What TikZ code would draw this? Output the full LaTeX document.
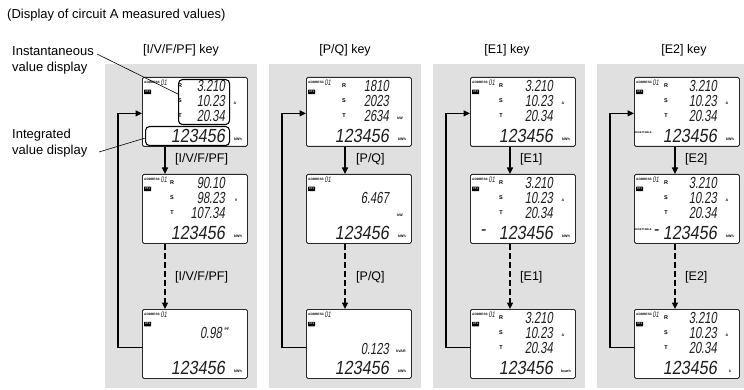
\documentclass[tikz,border=0pt]{standalone}
\usepackage{fontspec}
\setmainfont{Liberation Sans}
\newfontfamily\lcdfont{Liberation Sans}[FakeStretch=0.7,FakeSlant=0.15]
\newfontfamily\lcdbigfont{Liberation Sans}[FakeStretch=0.85,FakeSlant=0.15]
\usetikzlibrary{arrows.meta}
\definecolor{panelgray}{RGB}{224,224,224}
\definecolor{lcdline}{RGB}{40,40,40}
\definecolor{segcol}{RGB}{30,30,30}
\tikzset{
  panel/.style={fill=panelgray,draw=none},
  lcd/.style={draw=lcdline,line width=0.8pt,fill=white,rounded corners=1.5pt,minimum width=105pt,minimum height=69pt,inner sep=0pt,anchor=north west},
  conn/.style={line width=1.1pt,-{Triangle[length=6.5pt,width=6pt]}},
  dconn/.style={conn,dash pattern=on 6pt off 3pt},
  leader/.style={line width=0.6pt},
  hl/.style={draw=black,line width=1.1pt,rounded corners=4pt,inner sep=0pt,anchor=north west},
  titletext/.style={font=\fontsize{13}{15}\selectfont,inner sep=0pt,anchor=west},
  sidetext/.style={font=\fontsize{13}{16}\selectfont,inner sep=0pt,align=left,anchor=north west},
  keytext/.style={font=\fontsize{12.5}{15}\selectfont,inner sep=0pt},
  arrtext/.style={font=\fontsize{12.5}{14}\selectfont,inner sep=0pt,anchor=west},
  addr/.style={font=\fontsize{3.2}{3.5}\selectfont\bfseries,inner sep=0pt,anchor=west},
  lcdsm/.style={font=\lcdfont\fontsize{8}{8}\selectfont,inner sep=0pt,anchor=west,text=segcol},
  ctb/.style={fill=black,text=white,font=\fontsize{2.6}{3}\selectfont\bfseries,inner sep=0pt,minimum width=7pt,minimum height=4.5pt,rounded corners=0.4pt},
  rst/.style={font=\fontsize{5.5}{6}\selectfont\bfseries,inner sep=0pt},
  val/.style={font=\lcdfont\fontsize{16}{16}\selectfont,inner sep=0pt,anchor=east,text=segcol},
  ival/.style={font=\lcdbigfont\fontsize{19}{19}\selectfont,inner sep=0pt,anchor=east,text=segcol},
  unit/.style={font=\fontsize{3.6}{4}\selectfont\bfseries,inner sep=0pt},
  tinytext/.style={font=\fontsize{2.6}{3}\selectfont\bfseries,inner sep=0pt},
}
\newcommand\lcdhead[1]{%
  \node[addr] (#1ad) at (2,5) {ADDRESS};
  \node[lcdsm] (#1no) at (18.5,5.5) {01};
  \node[ctb] (#1ct) at (5.5,15) {CT1};}
\newcommand\lcdrows[5]{%
  \node[rst] (#1r) at (#2,9) {R};
  \node[rst] (#1s) at (#2,24) {S};
  \node[rst] (#1t) at (#2,39) {T};
  \node[val] (#1va) at (83,9) {#3};
  \node[val] (#1vb) at (83,24) {#4};
  \node[val] (#1vc) at (83,39) {#5};}
\newcommand\lcdint[3]{%
  \node[ival] (#1iv) at (83,59) {#2};
  \node[unit] (#1iu) at (96,62) {#3};}
\begin{document}
\begin{tikzpicture}[x=1pt,y=-1pt]
\useasboundingbox (0,0) rectangle (744,390);
% panels
\fill[panel] (105,64) rectangle (257,388);
\fill[panel] (269,64) rectangle (421,388);
\fill[panel] (433,64) rectangle (585,388);
\fill[panel] (597,64) rectangle (744,388);
% title and side labels
\node[titletext] (title) at (7,15) {(Display of circuit A measured values)};
\node[sidetext] (inst) at (12,46) {Instantaneous\\value display};
\node[sidetext] (integ) at (12,129) {Integrated\\value display};
% key labels
\node[keytext] (k1) at (181,50) {[I/V/F/PF] key};
\node[keytext] (k2) at (345,50) {[P/Q] key};
\node[keytext] (k3) at (507,50) {[E1] key};
\node[keytext] (k4) at (684,50) {[E2] key};

% ===== Panel 1 =====
\node[lcd] (p1b1) at (142,77) {};
\begin{scope}[shift={(142,77)}]
  \lcdhead{p1b1}
  \lcdrows{p1b1}{38}{3.210}{10.23}{20.34}
  \node[unit] (p1b1u) at (93,26) {A};
  \lcdint{p1b1}{123456}{kWh}
\end{scope}
\node[hl,minimum width=51pt,minimum height=45pt] (hlA) at (178,79) {};
\node[hl,minimum width=84pt,minimum height=19pt] (hlB) at (145,126) {};
\node[lcd] (p1b2) at (142,174) {};
\begin{scope}[shift={(142,174)}]
  \lcdhead{p1b2}
  \lcdrows{p1b2}{30}{90.10}{98.23}{107.34}
  \node[unit] (p1b2u) at (94,26) {V};
  \lcdint{p1b2}{123456}{kWh}
\end{scope}
\node[lcd] (p1b3) at (142,309) {};
\begin{scope}[shift={(142,309)}]
  \lcdhead{p1b3}
  \node[val] (p1b3v) at (80,24) {0.98};
  \node[unit] (p1b3pf) at (85,20) {PF};
  \lcdint{p1b3}{123456}{kWh}
\end{scope}

% ===== Panel 2 =====
\node[lcd] (p2b1) at (306,77) {};
\begin{scope}[shift={(306,77)}]
  \lcdhead{p2b1}
  \lcdrows{p2b1}{38}{1810}{2023}{2634}
  \node[unit] (p2b1u) at (94,41) {kW};
  \lcdint{p2b1}{123456}{kWh}
\end{scope}
\node[lcd] (p2b2) at (306,174) {};
\begin{scope}[shift={(306,174)}]
  \lcdhead{p2b2}
  \node[val] (p2b2v) at (83,24) {6.467};
  \node[unit] (p2b2u) at (94,41) {kW};
  \lcdint{p2b2}{123456}{kWh}
\end{scope}
\node[lcd] (p2b3) at (306,309) {};
\begin{scope}[shift={(306,309)}]
  \lcdhead{p2b3}
  \node[val] (p2b3v) at (83,40) {0.123};
  \node[unit] (p2b3u) at (95,42) {kVAR};
  \lcdint{p2b3}{123456}{kWh}
\end{scope}

% ===== Panel 3 =====
\node[lcd] (p3b1) at (470,77) {};
\begin{scope}[shift={(470,77)}]
  \lcdhead{p3b1}
  \lcdrows{p3b1}{31}{3.210}{10.23}{20.34}
  \node[unit] (p3b1u) at (93,26) {A};
  \lcdint{p3b1}{123456}{kWh}
\end{scope}
\node[lcd] (p3b2) at (470,174) {};
\begin{scope}[shift={(470,174)}]
  \lcdhead{p3b2}
  \lcdrows{p3b2}{31}{3.210}{10.23}{20.34}
  \node[unit] (p3b2u) at (93,26) {A};
  \node[ival] (p3b2mi) at (16,59) {-};
  \lcdint{p3b2}{123456}{kWh}
\end{scope}
\node[lcd] (p3b3) at (470,309) {};
\begin{scope}[shift={(470,309)}]
  \lcdhead{p3b3}
  \lcdrows{p3b3}{31}{3.210}{10.23}{20.34}
  \node[unit] (p3b3u) at (93,26) {A};
  \lcdint{p3b3}{123456}{kvarh}
\end{scope}

% ===== Panel 4 =====
\node[lcd] (p4b1) at (634,77) {};
\begin{scope}[shift={(634,77)}]
  \lcdhead{p4b1}
  \lcdrows{p4b1}{32}{3.210}{10.23}{20.34}
  \node[unit] (p4b1u) at (93,26) {A};
  \node[tinytext] (p4b1rs) at (9,56) {RESETTABLE};
  \lcdint{p4b1}{123456}{kWh}
\end{scope}
\node[lcd] (p4b2) at (634,174) {};
\begin{scope}[shift={(634,174)}]
  \lcdhead{p4b2}
  \lcdrows{p4b2}{32}{3.210}{10.23}{20.34}
  \node[unit] (p4b2u) at (93,26) {A};
  \node[tinytext] (p4b2rs) at (9,56) {RESETTABLE};
  \node[ival] (p4b2mi) at (25,59) {-};
  \lcdint{p4b2}{123456}{kWh}
\end{scope}
\node[lcd] (p4b3) at (634,309) {};
\begin{scope}[shift={(634,309)}]
  \lcdhead{p4b3}
  \lcdrows{p4b3}{32}{3.210}{10.23}{20.34}
  \node[unit] (p4b3u) at (93,26) {A};
  \lcdint{p4b3}{123456}{k}
\end{scope}

% leader lines
\coordinate (insttail) at (97,54);
\coordinate (integtail) at (99,152);
\draw[leader] (insttail) -- ([yshift=8pt]hlA.west);
\draw[leader] (integtail) -- ([yshift=-2pt]hlB.west);

% connectors: panel 1
\draw[conn] ([xshift=23pt]p1b1.south west) -- ([xshift=23pt]p1b2.north west);
\draw[dconn] ([xshift=23pt]p1b2.south west) -- ([xshift=23pt]p1b3.north west);
\draw[conn] ([yshift=-3.5pt]p1b3.west) -- ++(-24pt,0) |- ([yshift=-1.5pt]p1b1.west);
\node[arrtext] (a11) at (175,159) {[I/V/F/PF]};
\node[arrtext] (a12) at (175,277) {[I/V/F/PF]};
% panel 2
\draw[conn] ([xshift=39pt]p2b1.south west) -- ([xshift=39pt]p2b2.north west);
\draw[dconn] ([xshift=39pt]p2b2.south west) -- ([xshift=39pt]p2b3.north west);
\draw[conn] ([yshift=-3.5pt]p2b3.west) -- ++(-24pt,0) |- ([yshift=-1.5pt]p2b1.west);
\node[arrtext] (a21) at (356,159) {[P/Q]};
\node[arrtext] (a22) at (356,277) {[P/Q]};
% panel 3
\draw[conn] ([xshift=40pt]p3b1.south west) -- ([xshift=40pt]p3b2.north west);
\draw[dconn] ([xshift=40pt]p3b2.south west) -- ([xshift=40pt]p3b3.north west);
\draw[conn] ([yshift=-3.5pt]p3b3.west) -- ++(-24pt,0) |- ([yshift=-1.5pt]p3b1.west);
\node[arrtext] (a31) at (520,159) {[E1]};
\node[arrtext] (a32) at (520,277) {[E1]};
% panel 4
\draw[conn] ([xshift=41pt]p4b1.south west) -- ([xshift=41pt]p4b2.north west);
\draw[dconn] ([xshift=41pt]p4b2.south west) -- ([xshift=41pt]p4b3.north west);
\draw[conn] ([yshift=-3.5pt]p4b3.west) -- ++(-24pt,0) |- ([yshift=-1.5pt]p4b1.west);
\node[arrtext] (a41) at (685,159) {[E2]};
\node[arrtext] (a42) at (685,277) {[E2]};
\end{tikzpicture}
\end{document}
